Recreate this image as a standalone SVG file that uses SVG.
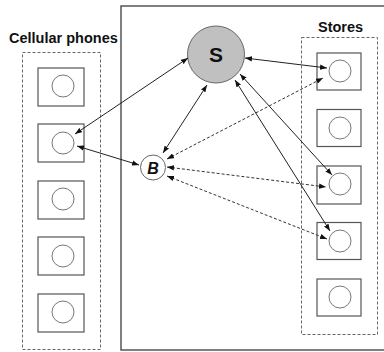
<svg xmlns="http://www.w3.org/2000/svg" width="384" height="352" viewBox="0 0 384 352">
  <style>
    .frame { fill: none; stroke: #555; stroke-width: 1.5; }
    .group { fill: none; stroke: #666; stroke-width: 1; stroke-dasharray: 3 2; }
    .box { fill: #fff; stroke: #555; stroke-width: 1.2; }
    .dot { fill: #fff; stroke: #777; stroke-width: 1; }
    .title { font-family: "Liberation Sans", Arial, sans-serif; font-weight: bold; font-size: 14.5px; fill: #111; }
    .solid { fill: none; stroke: #222; stroke-width: 1; marker-start: url(#ah); marker-end: url(#ah); }
    .dashed { fill: none; stroke: #333; stroke-width: 1; stroke-dasharray: 3 2; marker-start: url(#ah); marker-end: url(#ah); }
  </style>
  <defs>
    <marker id="ah" viewBox="0 0 8 6" refX="8" refY="3" markerWidth="7" markerHeight="5.5" markerUnits="userSpaceOnUse" orient="auto-start-reverse">
      <path d="M0,0 L8,3 L0,6 z" fill="#111"/>
    </marker>
  </defs>

  <rect x="0" y="0" width="384" height="352" fill="#fff"/>

  <!-- main area frame -->
  <rect class="frame" x="121" y="6" width="290" height="344"/>

  <!-- cellular phones -->
  <g id="phones">
    <text class="title" x="9" y="43">Cellular phones</text>
    <rect class="group" x="22.5" y="52.5" width="78" height="297"/>
    <g id="phone1"><rect class="box" x="38" y="68" width="46" height="38"/><circle class="dot" cx="63" cy="86" r="11"/></g>
    <g id="phone2"><rect class="box" x="38" y="124" width="46" height="38"/><circle class="dot" cx="63" cy="143" r="11"/></g>
    <g id="phone3"><rect class="box" x="38" y="181" width="46" height="38"/><circle class="dot" cx="63" cy="199" r="11"/></g>
    <g id="phone4"><rect class="box" x="38" y="237" width="46" height="38"/><circle class="dot" cx="63" cy="256" r="11"/></g>
    <g id="phone5"><rect class="box" x="38" y="294" width="46" height="38"/><circle class="dot" cx="63" cy="312" r="11"/></g>
  </g>

  <!-- stores -->
  <g id="stores">
    <text class="title" x="318" y="32">Stores</text>
    <rect class="group" x="301.5" y="37.5" width="76" height="297"/>
    <g id="store1"><rect class="box" x="317" y="53" width="44" height="37"/><circle class="dot" cx="340" cy="71" r="11"/></g>
    <g id="store2"><rect class="box" x="317" y="109.5" width="44" height="37"/><circle class="dot" cx="340" cy="128" r="11"/></g>
    <g id="store3"><rect class="box" x="317" y="166" width="44" height="38"/><circle class="dot" cx="340" cy="184" r="11"/></g>
    <g id="store4"><rect class="box" x="317" y="222.5" width="44" height="37"/><circle class="dot" cx="340" cy="241" r="11"/></g>
    <g id="store5"><rect class="box" x="317" y="279" width="44" height="37"/><circle class="dot" cx="340" cy="297" r="11"/></g>
  </g>

  <!-- server -->
  <g id="server">
    <circle cx="216" cy="54.5" r="28.5" fill="#c0c0c0" stroke="#666" stroke-width="1"/>
    <text x="216" y="62" text-anchor="middle" font-family="Liberation Sans, Arial, sans-serif" font-weight="bold" font-size="21" fill="#111">S</text>
  </g>

  <!-- broker -->
  <g id="broker">
    <circle cx="153" cy="167.5" r="12.5" fill="#fff" stroke="#666" stroke-width="1"/>
    <text x="153" y="173.5" text-anchor="middle" font-family="Liberation Sans, Arial, sans-serif" font-weight="bold" font-style="italic" font-size="16" fill="#111">B</text>
  </g>

  <!-- connectors -->
  <g id="connectors">
    <line class="solid" x1="75" y1="134" x2="188" y2="58"/>
    <line class="solid" x1="77" y1="146" x2="139" y2="165"/>
    <line class="solid" x1="163" y1="153" x2="207" y2="85"/>
    <line class="solid" x1="245" y1="58" x2="327" y2="68"/>
    <line class="solid" x1="240" y1="74" x2="332" y2="175"/>
    <line class="solid" x1="235" y1="80" x2="330" y2="231"/>
    <line class="dashed" x1="167" y1="159" x2="323" y2="78"/>
    <line class="dashed" x1="167" y1="167" x2="326" y2="187"/>
    <line class="dashed" x1="167" y1="176" x2="327" y2="239"/>
  </g>
</svg>
